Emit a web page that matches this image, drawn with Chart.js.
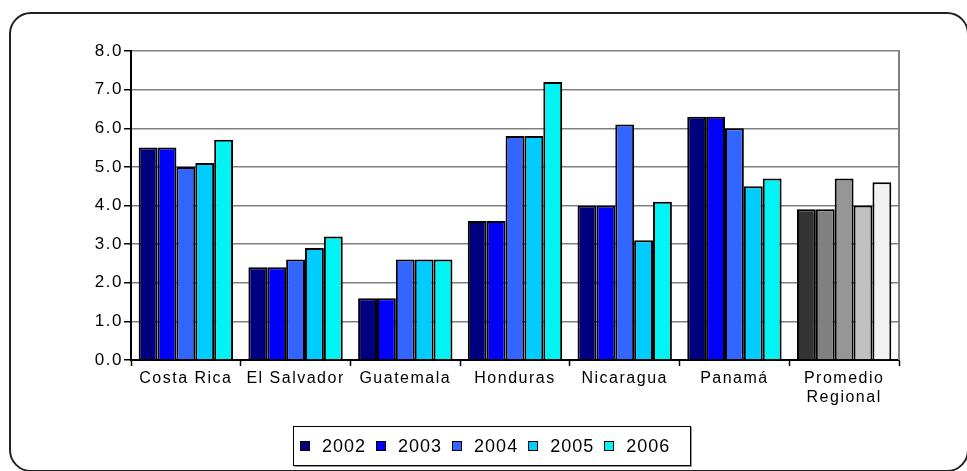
<!DOCTYPE html>
<html>
<head>
<meta charset="utf-8">
<script src="https://cdn.jsdelivr.net/npm/chart.js@4"></script>
<style>
  html, body { margin: 0; padding: 0; background: #fff; }
  body { width: 967px; height: 471px; overflow: hidden; position: relative; font-family: "Liberation Sans", Arial, sans-serif; }
  #marco { position: absolute; left: 9px; top: 12px; width: 960px; height: 460px; border: 2px solid #222; border-radius: 22px; box-sizing: border-box; }
  #grafico { position: absolute; left: 0; top: 0; }
  #leyenda { position: absolute; left: 293px; top: 426px; width: 398px; height: 40px; box-sizing: border-box;
             border: 1px solid #000; box-shadow: 1px 1px 0 #999; display: flex; align-items: center; padding-left: 6px; }
  .item { display: flex; align-items: center; margin-right: 10px; }
  .cuadro { width: 10px; height: 10px; border: 1px solid #000; box-sizing: border-box; margin-right: 12px; }
  .texto { font-size: 18px; letter-spacing: 1px; color: #000; }
</style>
</head>
<body>
<div id="marco"></div>
<canvas id="grafico" width="967" height="471"></canvas>
<div id="leyenda"></div>
<script>
// paises y años
const paises = ['Costa Rica', 'El Salvador', 'Guatemala', 'Honduras', 'Nicaragua', 'Panamá', ['Promedio', 'Regional']];
const anios = ['2002', '2003', '2004', '2005', '2006'];

// valores por año
const v2002 = [5.5, 2.4, 1.6, 3.6, 4.0, 6.3, 3.9];
const v2003 = [5.5, 2.4, 1.6, 3.6, 4.0, 6.3, 3.9];
const v2004 = [5.0, 2.6, 2.6, 5.8, 6.1, 6.0, 4.7];
const v2005 = [5.1, 2.9, 2.6, 5.8, 3.1, 4.5, 4.0];
const v2006 = [5.7, 3.2, 2.6, 7.2, 4.1, 4.7, 4.6];
const valores = [v2002, v2003, v2004, v2005, v2006];

const yTicks = [0, 1, 2, 3, 4, 5, 6, 7, 8];

const colores = ['#000080', '#0000ff', '#3366ff', '#00ccff', '#00f4f4'];
// el promedio regional va en grises
const grises = ['#333333', '#808080', '#969696', '#c0c0c0', '#f2f2f2'];

const datasets = anios.map((a, i) => ({
    label: a,
    data: valores[i],
    backgroundColor: paises.map((p, j) => j === paises.length - 1 ? grises[i] : colores[i]),
    borderColor: '#000',
    borderWidth: 2,
    categoryPercentage: 0.86,
    barPercentage: 1.0,
}));

const espaciado = {
    id: 'espaciado',
    beforeDraw(chart) {
        chart.ctx.letterSpacing = '1.5px';
    },
};

const bordeDerecho = {
    id: 'bordeDerecho',
    afterDraw(chart) {
        const { ctx, chartArea } = chart;
        ctx.save();
        ctx.strokeStyle = '#808080';
        ctx.lineWidth = 2;
        ctx.beginPath();
        ctx.moveTo(chartArea.right, chartArea.top - 1);
        ctx.lineTo(chartArea.right, chartArea.bottom);
        ctx.stroke();
        ctx.restore();
    },
};

Chart.defaults.font.family = '"Liberation Sans", Arial, sans-serif';
Chart.defaults.color = '#000';

new Chart('grafico', {
    type: 'bar',
    data: { labels: paises, datasets },
    options: {
        responsive: false,
        animation: false,
        layout: { padding: { top: 51, right: 68, left: 0, bottom: 51 } },
        plugins: { legend: { display: false }, tooltip: { enabled: false } },
        scales: {
            x: {
                afterFit: (s) => { s.height = 60; },
                grid: { drawOnChartArea: false, drawTicks: true, tickLength: 6, tickColor: '#000', tickWidth: 1.5 },
                border: { color: '#000', width: 2 },
                ticks: { font: { size: 16 }, padding: 3, maxRotation: 0, autoSkip: false },
            },
            y: {
                min: 0,
                max: 8,
                afterFit: (s) => { s.width = 131; },
                afterBuildTicks: (s) => { s.ticks = yTicks.map(v => ({ value: v })); },
                grid: { color: '#808080', lineWidth: 1.5, tickColor: '#000', tickLength: 7 },
                border: { color: '#000', width: 2 },
                ticks: { font: { size: 17 }, padding: 1, callback: (v) => v.toFixed(1) },
            },
        },
    },
    plugins: [espaciado, bordeDerecho],
});

// leyenda en html
const leyenda = document.getElementById('leyenda');
anios.forEach((a, i) => {
    const item = document.createElement('div');
    item.className = 'item';
    item.innerHTML = `<span class="cuadro" style="background:${colores[i]}"></span><span class="texto">${a}</span>`;
    leyenda.appendChild(item);
});
</script>
</body>
</html>
